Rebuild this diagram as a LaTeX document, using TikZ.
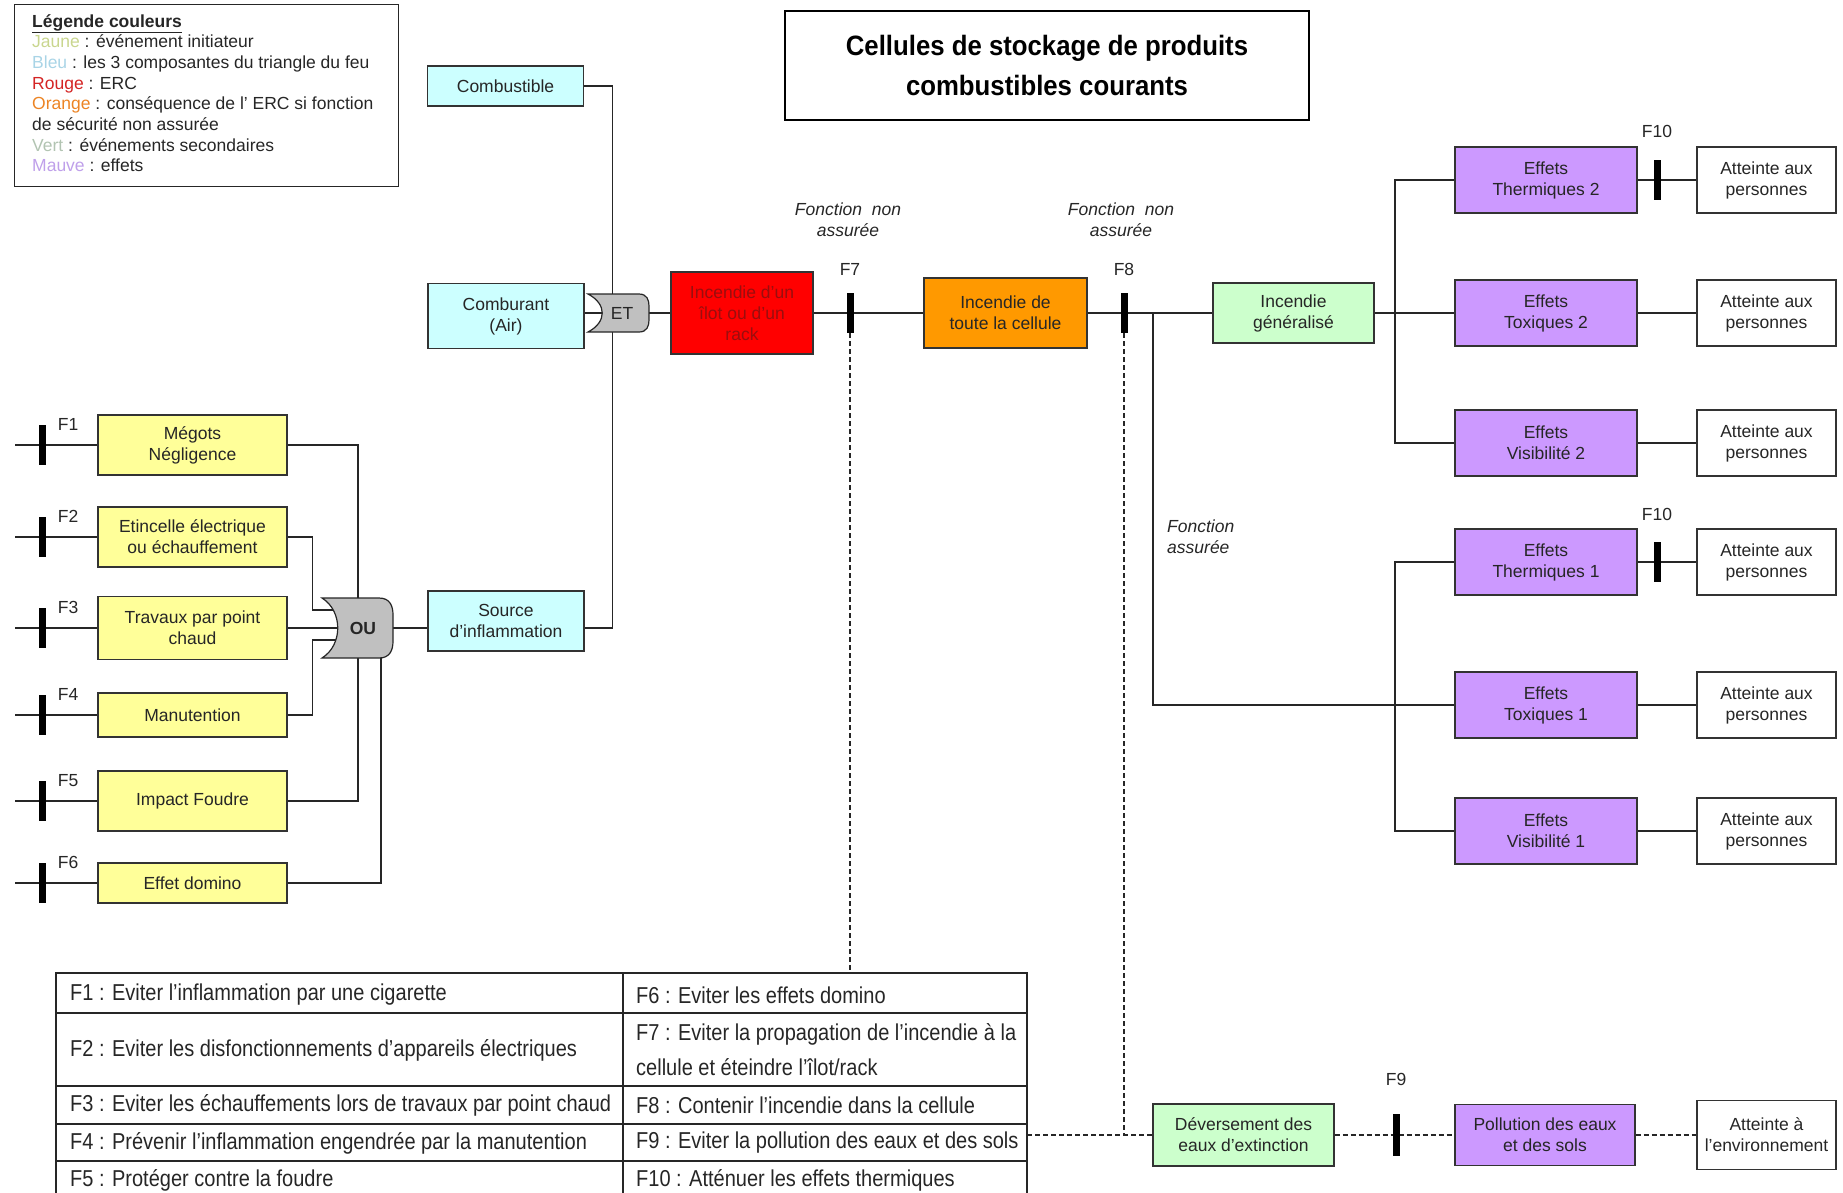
\documentclass[tikz,border=0pt]{standalone}
\usepackage{fontspec}
\setmainfont{Liberation Sans}
\newfontfamily\narrowfont[FakeStretch=0.87]{Liberation Sans}
\newfontfamily\titlefont[FakeStretch=0.92]{Liberation Sans}
\usetikzlibrary{positioning}
\usetikzlibrary{backgrounds}

\definecolor{ink}{HTML}{262626}
\definecolor{boxline}{HTML}{333333}
\definecolor{jaune}{HTML}{FFFF99}
\definecolor{bleu}{HTML}{CCFFFF}
\definecolor{rouge}{HTML}{FF0000}
\definecolor{rougetxt}{HTML}{9A0E0E}
\definecolor{orange}{HTML}{FF9900}
\definecolor{vert}{HTML}{CCFFCC}
\definecolor{mauve}{HTML}{CC99FF}
\definecolor{gatefill}{HTML}{C0C0C0}
\definecolor{leg_jaune}{HTML}{C9D68E}
\definecolor{leg_bleu}{HTML}{A9D4E6}
\definecolor{leg_rouge}{HTML}{D42424}
\definecolor{leg_orange}{HTML}{EC8424}
\definecolor{leg_vert}{HTML}{B2C4B2}
\definecolor{leg_mauve}{HTML}{BFA0EA}

\tikzset{
        box/.style={align=center,inner sep=0pt,draw=boxline,line width=1.3pt,text=ink,font=\fontsize{17.5}{21}\selectfont},
        % Initiating events
        box_yellow/.style={box, fill=jaune, minimum width=189pt},
        % Fire triangle
        box_blue/.style={box, fill=bleu, minimum width=156pt},
        % ERC
        box_red/.style={box, fill=rouge, text=rougetxt, minimum width=142pt, minimum height=82pt},
        % Consequence
        box_orange/.style={box, fill=orange, minimum width=163pt, minimum height=70pt},
        % Secondary events
        box_green/.style={box, fill=vert, minimum width=161pt, minimum height=60pt},
        % Effects
        box_mauve/.style={box, fill=mauve, minimum width=182pt, minimum height=66pt},
        % Targets
        box_white/.style={box, fill=white, minimum width=139pt, minimum height=66pt},
        % Safety functions
        barrier/.style={rectangle, fill=black, inner sep=0pt, minimum width=7pt, minimum height=40pt},
        barrier_label/.style={inner sep=0pt, text=ink, font=\fontsize{17.5}{21}\selectfont},
        note_label/.style={inner sep=0pt, align=center, text=ink, font=\itshape\fontsize{17.5}{21}\selectfont},
        gate_label/.style={inner sep=0pt, text=ink, font=\fontsize{17.5}{21}\selectfont},
        table_text/.style={inner sep=0pt, anchor=west, text=ink, font=\narrowfont\fontsize{23}{35}\selectfont}
}

\begin{document}
\begin{tikzpicture}[
            x=1pt, y=-1pt,
            link/.style={draw=ink, line width=1.4pt},
            dashlink/.style={draw=ink, line width=1.2pt, dash pattern=on 5pt off 3pt},
            gate/.style={fill=gatefill, draw=ink, line width=1.2pt}
        ]
            \useasboundingbox (0,0) rectangle (1843,1192);

            % legend and title
            \node[draw=ink, line width=1.3pt, anchor=north west, minimum width=384pt, minimum height=182pt] (legend) at (14,4) {};
            \node[anchor=north west, align=left, inner sep=0pt, text=ink, font=\fontsize{17.5}{20.7}\selectfont] (legend_txt) at (32,14) {\underline{\textbf{Légende couleurs}}\\
                \textcolor{leg_jaune}{Jaune} : événement initiateur\\
                \textcolor{leg_bleu}{Bleu} : les 3 composantes du triangle du feu\\
                \textcolor{leg_rouge}{Rouge} : ERC\\
                \textcolor{leg_orange}{Orange} : conséquence de l' ERC si fonction\\
                de sécurité non assurée\\
                \textcolor{leg_vert}{Vert} : événements secondaires\\
                \textcolor{leg_mauve}{Mauve} : effets};
            \node[draw=black, line width=1.5pt, minimum width=524pt, minimum height=109pt, align=center, text=black,
                  font=\titlefont\bfseries\fontsize{28}{40}\selectfont] (title) at (1047,65.5) {Cellules de stockage de produits\\combustibles courants};

            % initiating events
            \node[box_yellow, minimum height=60pt] (megots) at (192.5,445) {Mégots\\Négligence};
            \node[box_yellow, minimum height=60pt] (etincelle) at (192.5,537) {Etincelle électrique\\ou échauffement};
            \node[box_yellow, minimum height=63pt] (travaux) at (192.5,628) {Travaux par point\\chaud};
            \node[box_yellow, minimum height=44pt] (manutention) at (192.5,715) {Manutention};
            \node[box_yellow, minimum height=60pt] (foudre) at (192.5,801) {Impact Foudre};
            \node[box_yellow, minimum height=40pt] (domino) at (192.5,883) {Effet domino};

            \node[barrier] (f1) at (42,445) {};
            \node[barrier] (f2) at (42,537) {};
            \node[barrier] (f3) at (42,628) {};
            \node[barrier] (f4) at (42,715) {};
            \node[barrier] (f5) at (42,801) {};
            \node[barrier] (f6) at (42,883) {};
            \node[barrier_label, right=12pt of f1.north east] (f1_lbl) {F1};
            \node[barrier_label, right=12pt of f2.north east] (f2_lbl) {F2};
            \node[barrier_label, right=12pt of f3.north east] (f3_lbl) {F3};
            \node[barrier_label, right=12pt of f4.north east] (f4_lbl) {F4};
            \node[barrier_label, right=12pt of f5.north east] (f5_lbl) {F5};
            \node[barrier_label, right=12pt of f6.north east] (f6_lbl) {F6};
            \coordinate (in1) at (15,445);
            \coordinate (in2) at (15,537);
            \coordinate (in3) at (15,628);
            \coordinate (in4) at (15,715);
            \coordinate (in5) at (15,801);
            \coordinate (in6) at (15,883);

            % OU gate
            \node[gate_label, font=\bfseries\fontsize{17.5}{21}\selectfont] (ou) at (363,628) {OU};
            \coordinate (ou_n) at (358,598);
            \coordinate (ou_s) at (358,658);
            \coordinate (ou_s2) at (381,658);
            \coordinate (ou_w1) at (340,610);
            \coordinate (ou_w2) at (340,628);
            \coordinate (ou_w3) at (340,640);
            \coordinate (ou_e) at (393,628);

            % fire triangle
            \node[box_blue, minimum height=40pt] (combustible) at (505.5,86) {Combustible};
            \node[box_blue, minimum height=65pt] (comburant) at (506,316) {Comburant\\(Air)};
            \node[box_blue, minimum height=60pt] (source) at (506,621) {Source\\d’inflammation};

            % ET gate
            \node[gate_label] (et) at (622,313) {ET};
            \coordinate (et_w) at (602,313);
            \coordinate (et_e) at (649,313);

            % main chain
            \node[box_red] (ilot) at (742,313) {Incendie d’un\\îlot ou d’un\\rack};
            \node[barrier] (f7) at (850,313) {};
            \node[barrier_label, above=17pt of f7] (f7_lbl) {F7};
            \node[note_label] (f7_note) at (848,220) {Fonction\ \ non\\assurée};
            \node[box_orange] (cellule) at (1005.5,313) {Incendie de\\toute la cellule};
            \node[barrier] (f8) at (1124,313) {};
            \node[barrier_label, above=17pt of f8] (f8_lbl) {F8};
            \node[note_label] (f8_note) at (1121,220) {Fonction\ \ non\\assurée};
            \node[note_label, anchor=west, align=left] (f8_ok) at (1167,537) {Fonction\\assurée};
            \coordinate (j1) at (1153,313);
            \node[box_green] (generalise) at (1293.5,313) {Incendie\\généralisé};
            \coordinate (j2) at (1395,313);
            \coordinate (j3) at (1395,705);

            % effects
            \node[box_mauve] (th2) at (1546,180) {Effets\\Thermiques 2};
            \node[box_mauve] (tox2) at (1546,313) {Effets\\Toxiques 2};
            \node[box_mauve] (vis2) at (1546,443) {Effets\\Visibilité 2};
            \node[box_mauve] (th1) at (1546,562) {Effets\\Thermiques 1};
            \node[box_mauve] (tox1) at (1546,705) {Effets\\Toxiques 1};
            \node[box_mauve] (vis1) at (1546,831) {Effets\\Visibilité 1};
            \node[barrier] (f10a) at (1657,180) {};
            \node[barrier_label, above=22pt of f10a] (f10a_lbl) {F10};
            \node[barrier] (f10b) at (1657,562) {};
            \node[barrier_label, above=21pt of f10b] (f10b_lbl) {F10};
            \node[box_white] (pers1) at (1766.5,180) {Atteinte aux\\personnes};
            \node[box_white] (pers2) at (1766.5,313) {Atteinte aux\\personnes};
            \node[box_white] (pers3) at (1766.5,443) {Atteinte aux\\personnes};
            \node[box_white] (pers4) at (1766.5,562) {Atteinte aux\\personnes};
            \node[box_white] (pers5) at (1766.5,705) {Atteinte aux\\personnes};
            \node[box_white] (pers6) at (1766.5,831) {Atteinte aux\\personnes};

            % water branch
            \node[box_green, minimum width=181pt, minimum height=62pt] (deversement) at (1243.5,1135) {Déversement des\\eaux d’extinction};
            \node[barrier, minimum height=42pt] (f9) at (1396,1135) {};
            \node[barrier_label, above=28pt of f9] (f9_lbl) {F9};
            \node[box_mauve, minimum width=180pt, minimum height=61pt] (pollution) at (1545,1135) {Pollution des eaux\\et des sols};
            \node[box_white, minimum height=69pt] (env) at (1766.5,1135) {Atteinte à\\l’environnement};

            % table of safety functions
            \coordinate (tab_nw) at (56,973);
            \coordinate (tab_ne) at (1027,973);
            \draw[draw=ink, line width=1.3pt] (tab_nw) rectangle (1027,1197);
            \foreach \y in {1013,1086,1124,1161}
                \draw[draw=ink, line width=1.3pt] (56,\y) -- (1027,\y);
            \draw[draw=ink, line width=1.3pt] (623,973) -- (623,1197);
            \node[table_text] (t1) at (70,995) {F1 : Eviter l’inflammation par une cigarette};
            \node[table_text] (t2) at (70,1050) {F2 : Eviter les disfonctionnements d’appareils électriques};
            \node[table_text] (t3) at (70,1105) {F3 : Eviter les échauffements lors de travaux par point chaud};
            \node[table_text] (t4) at (70,1143) {F4 : Prévenir l’inflammation engendrée par la manutention};
            \node[table_text] (t5) at (70,1180) {F5 : Protéger contre la foudre};
            \node[table_text] (t6) at (636,995) {F6 : Eviter les effets domino};
            \node[table_text, align=left] (t7) at (636,1050) {F7 : Eviter la propagation de l’incendie à la\\cellule et éteindre l’îlot/rack};
            \node[table_text] (t8) at (636,1105) {F8 : Contenir l’incendie dans la cellule};
            \node[table_text] (t9) at (636,1143) {F9 : Eviter la pollution des eaux et des sols};
            \node[table_text] (t10) at (636,1180) {F10 : Atténuer les effets thermiques};

            \begin{scope}[on background layer]
                \draw[link] (in1) -- (megots.west);
                \draw[link] (in2) -- (etincelle.west);
                \draw[link] (in3) -- (travaux.west);
                \draw[link] (in4) -- (manutention.west);
                \draw[link] (in5) -- (foudre.west);
                \draw[link] (in6) -- (domino.west);
                \draw[link] (megots.east) -| (ou_n);
                \draw[link] (etincelle.east) -- ++(25,0) |- (ou_w1);
                \draw[link] (travaux.east) -- (ou_w2);
                \draw[link] (manutention.east) -- ++(25,0) |- (ou_w3);
                \draw[link] (foudre.east) -| (ou_s);
                \draw[link] (domino.east) -| (ou_s2);
                \draw[link] (ou_e) -- (source.west |- ou_e);
                \draw[link] (source.east |- ou_e) -- ++(28,0) |- (combustible.east);
                \draw[link] (comburant.east |- et_w) -- (et_w);
                \draw[link] (et_e) -- (ilot);
                \draw[link] (ilot) -- (cellule);
                \draw[link] (cellule) -- (generalise);
                \draw[link] (j1) |- (tox1.west);
                \draw[link] (generalise) -- (tox2);
                \draw[link] (th2.west) -| (j2) |- (vis2.west);
                \draw[link] (th1.west) -| (j3) |- (vis1.west);
                \draw[link] (th2) -- (pers1);
                \draw[link] (tox2) -- (pers2);
                \draw[link] (vis2) -- (pers3);
                \draw[link] (th1) -- (pers4);
                \draw[link] (tox1) -- (pers5);
                \draw[link] (vis1) -- (pers6);
                \draw[dashlink] (f7.south) -- (f7.south |- tab_nw);
                \draw[dashlink] (f8.south) -- (f8.south |- deversement.west);
                \draw[dashlink] (tab_ne |- deversement.west) -- (deversement.west);
                \draw[dashlink] (deversement) -- (pollution);
                \draw[dashlink] (pollution) -- (env);
                % gates over the wires
                \path[gate] (322,598) -- (379,598) .. controls (390,598) and (393,606) .. (393,615)
                    -- (393,641) .. controls (393,650) and (390,658) .. (379,658)
                    -- (322,658) .. controls (343,645) and (343,611) .. (322,598) -- cycle;
                \path[gate] (588,294) -- (639,294) .. controls (647,294) and (649,300) .. (649,306)
                    -- (649,320) .. controls (649,326) and (647,332) .. (639,332)
                    -- (588,332) .. controls (607,322) and (607,304) .. (588,294) -- cycle;
            \end{scope}
        \end{tikzpicture}
\end{document}
